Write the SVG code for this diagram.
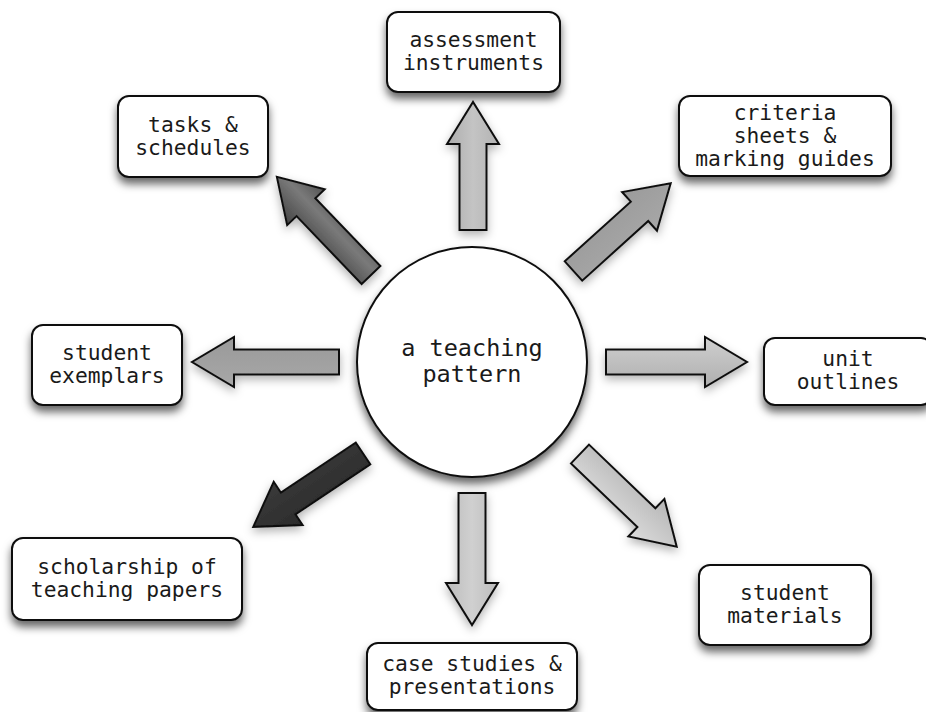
<svg xmlns="http://www.w3.org/2000/svg" width="926" height="712" viewBox="0 0 926 712">
<style>
.box{fill:#fff;stroke:#111;stroke-width:2}
.lbl{font-family:"DejaVu Sans Mono","Liberation Mono",monospace;font-size:21.3px;fill:#1a1a1a;text-anchor:middle}
.big{font-size:23.5px}
.arr{stroke:#111;stroke-width:2;stroke-linejoin:miter}
</style>
<defs>
<filter id="sh" x="-20%" y="-20%" width="140%" height="170%">
<feDropShadow dx="0" dy="6" stdDeviation="4" flood-color="#000" flood-opacity="0.6"/>
</filter>
<filter id="ash" x="-30%" y="-30%" width="160%" height="160%">
<feDropShadow dx="0" dy="4" stdDeviation="5" flood-color="#000" flood-opacity="0.3"/>
</filter>
<linearGradient id="gUp" x1="0" y1="0" x2="0" y2="1"><stop offset="0" stop-color="#adadad"/><stop offset="0.5" stop-color="#c4c4c4"/><stop offset="1" stop-color="#b3b3b3"/></linearGradient>
<linearGradient id="gNE" x1="0" y1="0" x2="0" y2="1"><stop offset="0" stop-color="#9b9b9b"/><stop offset="1" stop-color="#a7a7a7"/></linearGradient>
<linearGradient id="gNW" x1="0" y1="0" x2="0" y2="1"><stop offset="0" stop-color="#444"/><stop offset="0.6" stop-color="#7a7a7a"/><stop offset="1" stop-color="#555"/></linearGradient>
<linearGradient id="gW" x1="0" y1="0" x2="0" y2="1"><stop offset="0" stop-color="#a8a8a8"/><stop offset="1" stop-color="#999"/></linearGradient>
<linearGradient id="gE" x1="0" y1="0" x2="0" y2="1"><stop offset="0" stop-color="#cfcfcf"/><stop offset="1" stop-color="#afafaf"/></linearGradient>
<linearGradient id="gSE" x1="0" y1="0" x2="0" y2="1"><stop offset="0" stop-color="#b6b6b6"/><stop offset="1" stop-color="#dcdcdc"/></linearGradient>
<linearGradient id="gS" x1="0" y1="0" x2="0" y2="1"><stop offset="0" stop-color="#bbb"/><stop offset="0.5" stop-color="#d0d0d0"/><stop offset="1" stop-color="#bcbcbc"/></linearGradient>
<linearGradient id="gSW" x1="0" y1="0" x2="0" y2="1"><stop offset="0" stop-color="#2b2b2b"/><stop offset="1" stop-color="#3a3a3a"/></linearGradient>
</defs>

<g id="connectors">
<g filter="url(#ash)"><path class="arr" fill="url(#gUp)" transform="translate(473,230) rotate(-90)" d="M0,-13.5 H86 V-26 L128,0 L86,26 V13.5 H0 Z"/></g>
<g filter="url(#ash)"><path class="arr" fill="url(#gS)" transform="translate(472,493) rotate(90)" d="M0,-13.5 H90 V-26 L132,0 L90,26 V13.5 H0 Z"/></g>
<g filter="url(#ash)"><path class="arr" fill="url(#gW)" transform="translate(339,362) rotate(180)" d="M0,-12.5 H105 V-25 L147,0 L105,25 V12.5 H0 Z"/></g>
<g filter="url(#ash)"><path class="arr" fill="url(#gE)" transform="translate(606,362)" d="M0,-12.5 H99 V-25 L141,0 L99,25 V12.5 H0 Z"/></g>
<g filter="url(#ash)"><path class="arr" fill="url(#gNW)" transform="translate(371,275) rotate(-133.8)" d="M0,-13 H94 V-26 L136,0 L94,26 V13 H0 Z"/></g>
<g filter="url(#ash)"><path class="arr" fill="url(#gNE)" transform="translate(573.5,271) rotate(-42.1)" d="M0,-13 H89 V-26 L131,0 L89,26 V13 H0 Z"/></g>
<g filter="url(#ash)"><path class="arr" fill="url(#gSW)" transform="translate(363,453.5) rotate(146.25)" d="M0,-13 H90 V-26 L132,0 L90,26 V13 H0 Z"/></g>
<g filter="url(#ash)"><path class="arr" fill="url(#gSE)" transform="translate(580,454) rotate(43.8)" d="M0,-13 H92 V-26 L134,0 L92,26 V13 H0 Z"/></g>
</g>

<g id="center">
<circle cx="472" cy="362" r="115" fill="#fff" stroke="#111" stroke-width="2" filter="url(#sh)"/>
<text class="lbl big" x="472" y="356">a teaching</text>
<text class="lbl big" x="472" y="382">pattern</text>
</g>

<g id="assessment">
<rect class="box" x="387" y="12" width="173" height="80" rx="11" filter="url(#sh)"/>
<text class="lbl" x="473.5" y="47">assessment</text>
<text class="lbl" x="473.5" y="70">instruments</text>
</g>

<g id="tasks">
<rect class="box" x="118" y="96" width="150" height="81" rx="11" filter="url(#sh)"/>
<text class="lbl" x="193" y="132">tasks &amp;</text>
<text class="lbl" x="193" y="155">schedules</text>
</g>

<g id="criteria">
<rect class="box" x="679" y="96" width="212" height="80" rx="11" filter="url(#sh)"/>
<text class="lbl" x="785" y="120">criteria</text>
<text class="lbl" x="785" y="143">sheets &amp;</text>
<text class="lbl" x="785" y="166">marking guides</text>
</g>

<g id="exemplars">
<rect class="box" x="32" y="325" width="150" height="80" rx="11" filter="url(#sh)"/>
<text class="lbl" x="107" y="360">student</text>
<text class="lbl" x="107" y="383">exemplars</text>
</g>

<g id="unit">
<rect class="box" x="764" y="338" width="168" height="67" rx="11" filter="url(#sh)"/>
<text class="lbl" x="848" y="366">unit</text>
<text class="lbl" x="848" y="389">outlines</text>
</g>

<g id="materials">
<rect class="box" x="699" y="565" width="172" height="80" rx="11" filter="url(#sh)"/>
<text class="lbl" x="785" y="600">student</text>
<text class="lbl" x="785" y="623">materials</text>
</g>

<g id="scholarship">
<rect class="box" x="12" y="538" width="230" height="82" rx="11" filter="url(#sh)"/>
<text class="lbl" x="127" y="574">scholarship of</text>
<text class="lbl" x="127" y="597">teaching papers</text>
</g>

<g id="casestudies">
<rect class="box" x="367" y="643" width="210" height="67" rx="11" filter="url(#sh)"/>
<text class="lbl" x="472" y="671">case studies &amp;</text>
<text class="lbl" x="472" y="694">presentations</text>
</g>
</svg>
